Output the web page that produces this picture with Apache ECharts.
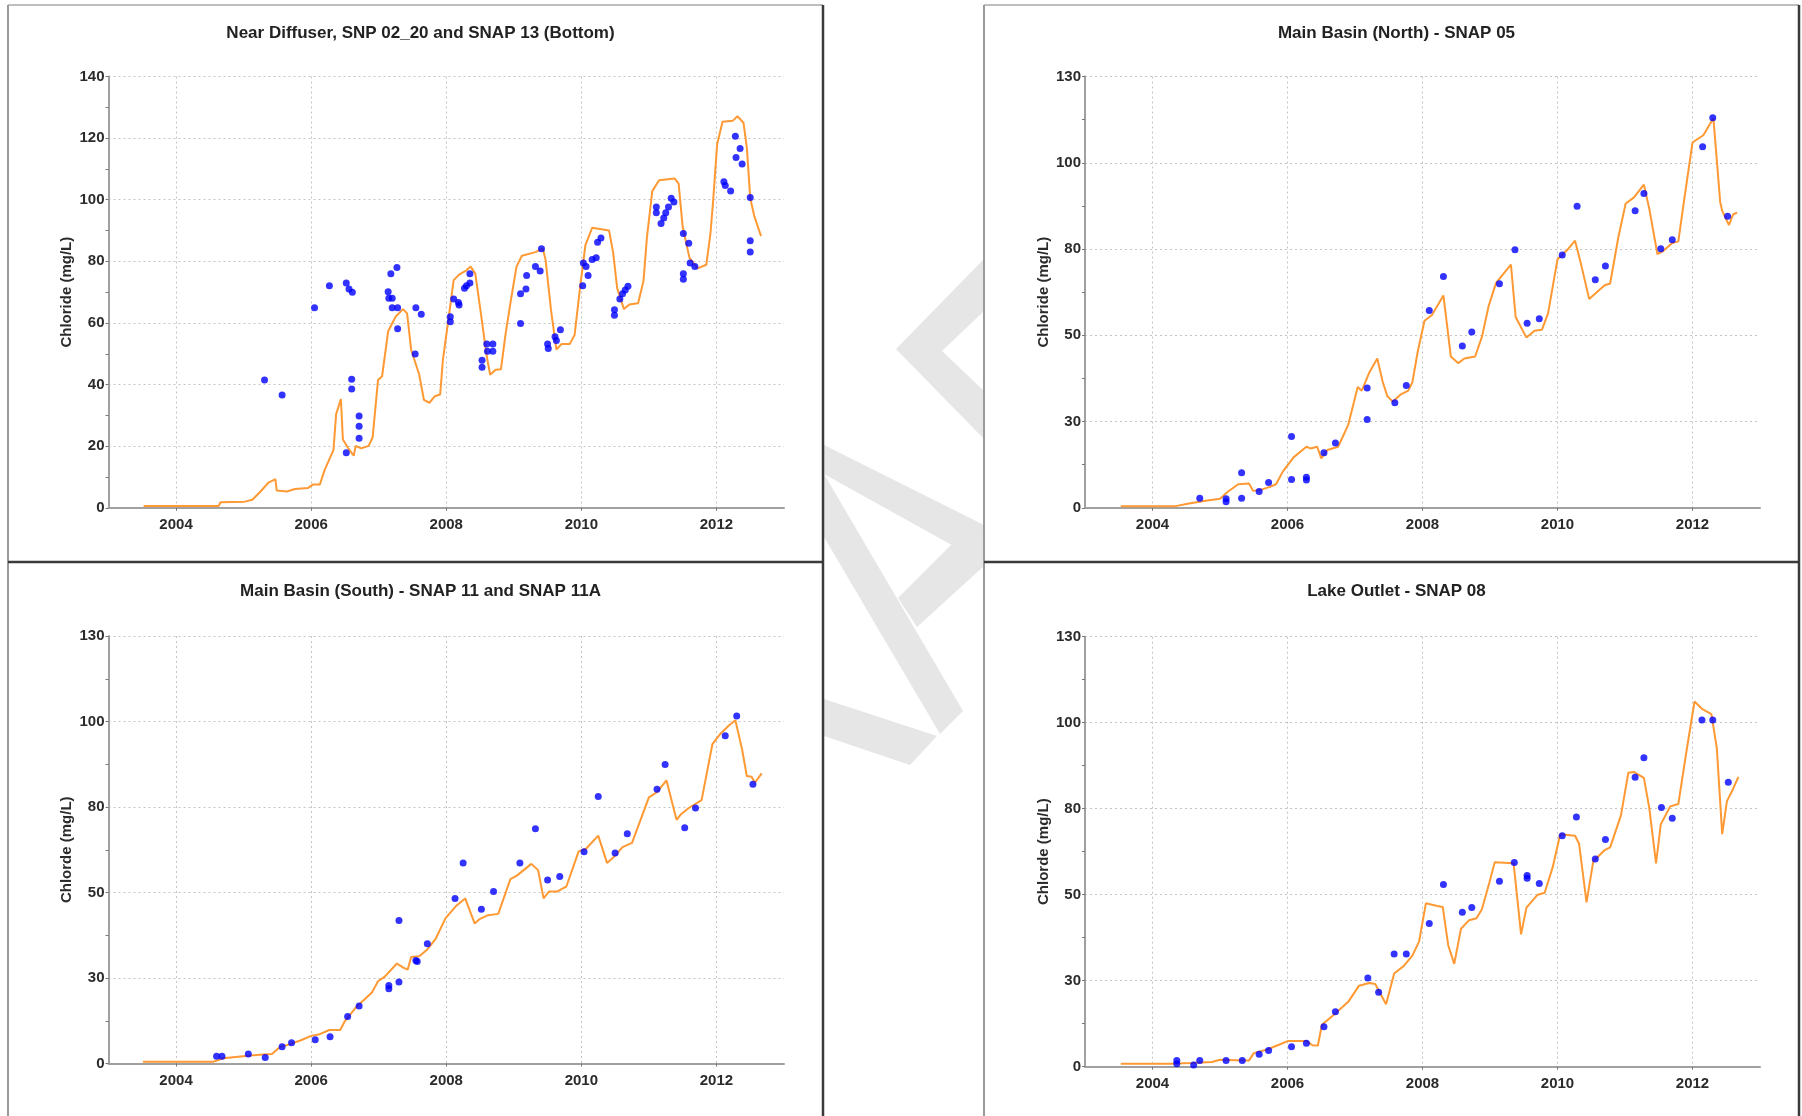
<!DOCTYPE html>
<html>
<head>
<meta charset="utf-8">
<title>Chloride – observed vs. simulated</title>
<script src="https://cdn.jsdelivr.net/npm/echarts@6/dist/echarts.min.js"></script>
<style>
  html, body { margin: 0; padding: 0; background: #fff; }
  #chart { width: 1802px; height: 1116px; }
</style>
</head>
<body>
<div id="chart"></div>
<script>
// ---- axis ticks ----------------------------------------------------------
const yearTicks = [2004, 2006, 2008, 2010, 2012];
const diffuserTickLabels = ['0', '20', '40', '60', '80', '100', '120', '140'];
const basinTickLabels = ['0', '30', '50', '80', '100', '130'];   // ticks every 26 mg/L, rounded

// ---- panel titles / axis names -------------------------------------------
const panelTitles = [
  'Near Diffuser, SNP 02_20 and SNAP 13 (Bottom)',
  'Main Basin (North) - SNAP 05',
  'Main Basin (South) - SNAP 11 and SNAP 11A',
  'Lake Outlet - SNAP 08'
];
const yNames = ['Chloride (mg/L)', 'Chloride (mg/L)', 'Chlorde (mg/L)', 'Chlorde (mg/L)'];

// ---- Near Diffuser -------------------------------------------------------
const diffuserModel = [
  [2003.52,0.6],[2004.63,0.6],[2004.66,1.8],[2005.02,2.0],[2005.13,2.6],[2005.25,5.3],[2005.37,8.2],
  [2005.47,9.3],[2005.49,5.6],[2005.64,5.3],[2005.76,6.1],[2005.95,6.4],[2006.03,7.6],[2006.13,7.6],
  [2006.2,12.3],[2006.33,18.7],[2006.37,30.4],[2006.44,35.3],[2006.47,22.2],[2006.55,19.3],[2006.63,16.9],
  [2006.66,20.1],[2006.74,19.3],[2006.85,20.1],[2006.91,22.8],[2006.99,41.5],[2007.05,42.7],[2007.14,57.3],
  [2007.25,62.0],[2007.36,64.5],[2007.42,63.1],[2007.48,51.4],[2007.6,43.2],[2007.67,35.0],[2007.75,34.1],
  [2007.83,36.2],[2007.91,36.8],[2007.95,47.9],[2008.03,60.8],[2008.11,73.9],[2008.19,75.7],[2008.3,77.1],
  [2008.36,78.3],[2008.43,76.0],[2008.52,62.0],[2008.6,49.1],[2008.65,43.2],[2008.73,44.8],[2008.81,45.0],
  [2008.88,56.7],[2008.96,67.8],[2009.04,78.3],[2009.12,81.8],[2009.32,83.0],[2009.43,84.1],[2009.47,80.6],
  [2009.55,64.3],[2009.63,51.4],[2009.71,53.2],[2009.83,53.2],[2009.9,56.1],[2009.98,71.3],[2010.06,85.3],
  [2010.16,90.9],[2010.41,90.0],[2010.47,83.0],[2010.53,71.3],[2010.63,64.5],[2010.71,66.0],[2010.84,66.4],
  [2010.92,73.6],[2010.97,87.6],[2011.05,102.8],[2011.15,106.3],[2011.38,106.9],[2011.44,105.2],[2011.5,91.2],
  [2011.6,81.2],[2011.72,77.7],[2011.85,78.9],[2011.91,88.8],[2011.95,99.3],[2012.01,118.0],[2012.09,125.3],
  [2012.24,125.6],[2012.31,127.1],[2012.4,125.0],[2012.45,116.9],[2012.5,100.5],[2012.56,94.7],[2012.66,88.2]
];
const diffuserObserved = [
  [2005.31,41.5],[2005.57,36.6],[2006.05,64.9],[2006.27,72.1],[2006.52,73.0],[2006.56,71.0],[2006.61,70.0],
  [2006.52,17.9],[2006.6,41.7],[2006.6,38.6],[2006.71,29.8],[2006.71,26.5],[2006.71,22.6],
  [2007.14,70.1],[2007.15,68.0],[2007.2,68.0],[2007.18,76.0],[2007.27,78.0],[2007.2,64.9],[2007.28,64.9],
  [2007.28,58.1],[2007.55,64.9],[2007.63,62.8],[2007.54,49.9],
  [2008.06,62.0],[2008.06,60.4],[2008.11,67.8],[2008.18,66.6],[2008.19,65.8],[2008.27,71.3],[2008.3,72.1],
  [2008.35,73.0],[2008.35,76.0],[2008.53,47.9],[2008.53,45.6],[2008.6,53.2],[2008.61,50.8],[2008.69,53.2],
  [2008.69,50.8],
  [2009.1,69.5],[2009.1,59.8],[2009.18,71.0],[2009.19,75.4],[2009.32,78.3],[2009.39,76.9],[2009.41,84.1],
  [2009.5,53.2],[2009.51,51.7],[2009.61,55.5],[2009.63,54.3],[2009.69,57.8],
  [2010.02,72.1],[2010.03,79.5],[2010.07,78.3],[2010.1,75.4],[2010.16,80.6],[2010.22,81.2],[2010.24,86.2],
  [2010.29,87.6],[2010.49,64.3],[2010.49,62.5],[2010.57,67.8],[2010.61,69.5],[2010.65,70.7],[2010.69,71.9],
  [2011.11,97.6],[2011.11,95.8],[2011.18,92.3],[2011.22,94.1],[2011.25,95.8],[2011.29,97.6],[2011.33,100.5],
  [2011.37,99.3],[2011.51,89.0],[2011.51,76.0],[2011.51,74.2],[2011.59,85.9],[2011.61,79.5],[2011.68,78.3],
  [2012.11,105.8],[2012.13,104.6],[2012.21,102.8],[2012.28,120.6],[2012.29,113.7],[2012.35,116.6],
  [2012.38,111.6],[2012.5,100.7],[2012.5,86.7],[2012.5,83.0]
];

// ---- Main Basin (North) --------------------------------------------------
const northModel = [
  [2003.53,0.5],[2004.34,0.5],[2004.54,1.3],[2004.81,2.2],[2005.0,2.7],[2005.12,4.9],[2005.27,7.1],
  [2005.43,7.3],[2005.49,5.1],[2005.6,5.4],[2005.74,6.3],[2005.83,7.1],[2005.93,10.9],[2006.09,15.2],
  [2006.28,18.4],[2006.34,17.9],[2006.44,18.4],[2006.5,14.9],[2006.59,17.4],[2006.75,18.4],[2006.9,25.0],
  [2007.04,36.4],[2007.1,35.3],[2007.21,40.7],[2007.33,45.0],[2007.41,38.0],[2007.48,33.6],[2007.56,32.0],
  [2007.68,34.2],[2007.79,35.3],[2007.85,37.8],[2007.93,47.2],[2008.03,56.4],[2008.14,58.1],[2008.31,64.0],
  [2008.42,45.6],[2008.53,43.6],[2008.62,45.0],[2008.78,45.6],[2008.88,51.5],[2008.98,60.8],[2009.09,67.8],
  [2009.31,73.3],[2009.38,57.5],[2009.54,51.3],[2009.66,53.4],[2009.77,53.7],[2009.86,58.6],[2010.0,74.9],
  [2010.14,77.6],[2010.26,80.5],[2010.35,73.3],[2010.47,62.9],[2010.59,65.1],[2010.7,67.1],[2010.78,67.6],
  [2010.9,81.4],[2011.01,91.7],[2011.13,93.5],[2011.28,97.4],[2011.36,90.1],[2011.48,76.5],[2011.56,77.3],
  [2011.7,79.8],[2011.79,80.3],[2011.88,93.3],[2012.0,110.1],[2012.16,112.3],[2012.31,117.4],[2012.41,92.2],
  [2012.44,89.5],[2012.54,85.2],[2012.6,88.4],[2012.66,89.0]
];
const northObserved = [
  [2004.7,2.9],[2005.09,2.7],[2005.09,1.8],[2005.32,10.6],[2005.32,2.9],[2005.58,4.9],[2005.72,7.6],
  [2006.06,8.5],[2006.06,21.5],[2006.28,9.2],[2006.28,8.4],[2006.54,16.6],[2006.71,19.5],[2007.18,36.1],
  [2007.18,26.6],[2007.59,31.7],[2007.76,36.9],[2008.1,59.5],[2008.31,69.7],[2008.59,48.8],[2008.73,53.0],
  [2009.14,67.5],[2009.37,77.8],[2009.55,55.6],[2009.73,57.0],[2010.07,76.2],[2010.29,90.9],[2010.56,68.7],
  [2010.71,72.9],[2011.15,89.5],[2011.28,94.7],[2011.53,78.1],[2011.7,80.8],[2012.15,108.8],[2012.3,117.6],
  [2012.52,87.9]
];

// ---- Main Basin (South) --------------------------------------------------
const southModel = [
  [2003.51,0.5],[2004.55,0.5],[2004.7,1.6],[2005.1,2.4],[2005.29,2.7],[2005.42,2.9],[2005.53,4.9],
  [2005.64,5.6],[2005.84,7.0],[2006.0,8.4],[2006.11,8.8],[2006.27,10.2],[2006.43,10.2],[2006.5,12.9],
  [2006.66,17.0],[2006.9,21.6],[2006.99,25.0],[2007.09,26.4],[2007.27,30.4],[2007.37,29.1],[2007.43,28.6],
  [2007.48,32.4],[2007.6,32.6],[2007.72,34.7],[2007.84,37.8],[2007.99,44.2],[2008.15,48.0],[2008.28,50.2],
  [2008.42,42.6],[2008.5,44.0],[2008.62,45.1],[2008.77,45.5],[2008.95,56.1],[2009.05,57.2],[2009.26,60.7],
  [2009.36,58.8],[2009.44,50.2],[2009.52,52.3],[2009.64,52.3],[2009.78,53.9],[2009.96,64.5],[2010.07,65.3],
  [2010.25,69.3],[2010.38,61.0],[2010.48,62.8],[2010.61,65.8],[2010.75,67.1],[2011.0,80.9],[2011.12,82.5],
  [2011.26,86.1],[2011.35,78.8],[2011.41,74.1],[2011.47,75.7],[2011.59,77.7],[2011.78,80.1],[2011.94,97.1],
  [2012.0,98.7],[2012.06,100.3],[2012.18,102.7],[2012.28,104.4],[2012.38,95.5],[2012.45,87.4],[2012.52,87.2],
  [2012.57,85.4],[2012.67,88.2]
];
const southObserved = [
  [2004.6,2.2],[2004.68,2.2],[2005.07,2.9],[2005.32,1.8],[2005.57,5.1],[2005.71,6.3],[2006.06,7.2],
  [2006.28,8.1],[2006.54,14.3],[2006.71,17.5],[2007.15,23.7],[2007.15,22.7],[2007.3,24.8],[2007.3,43.5],
  [2007.55,31.3],[2007.57,31.0],[2007.72,36.4],[2008.13,50.2],[2008.25,61.0],[2008.52,46.9],[2008.7,52.3],
  [2009.09,61.0],[2009.32,71.4],[2009.5,55.8],[2009.68,56.9],[2010.04,64.4],[2010.25,81.2],[2010.5,64.0],
  [2010.68,69.9],[2011.12,83.4],[2011.24,90.9],[2011.53,71.7],[2011.69,77.7],[2012.13,99.7],[2012.3,105.7],
  [2012.54,84.9]
];

// ---- Lake Outlet ---------------------------------------------------------
const outletModel = [
  [2003.53,0.9],[2004.26,0.9],[2004.57,1.1],[2004.88,1.4],[2005.0,2.1],[2005.35,1.9],[2005.43,1.9],
  [2005.5,4.1],[2005.7,5.2],[2005.89,6.8],[2006.01,7.8],[2006.28,7.8],[2006.37,6.5],[2006.45,6.4],
  [2006.51,12.7],[2006.67,15.4],[2006.9,19.6],[2007.06,24.5],[2007.21,25.3],[2007.3,25.0],[2007.46,18.9],
  [2007.58,28.2],[2007.72,30.4],[2007.85,33.6],[2007.95,37.9],[2008.05,49.4],[2008.22,48.6],[2008.3,48.3],
  [2008.38,36.8],[2008.47,31.1],[2008.57,41.7],[2008.69,44.3],[2008.8,44.9],[2008.88,47.6],[2008.99,55.6],
  [2009.07,61.8],[2009.35,61.5],[2009.46,40.0],[2009.54,48.1],[2009.7,51.9],[2009.81,52.6],[2009.93,60.4],
  [2010.04,70.3],[2010.26,69.8],[2010.32,67.4],[2010.43,49.7],[2010.53,62.1],[2010.7,65.5],[2010.78,66.3],
  [2010.94,76.0],[2011.05,88.9],[2011.13,89.1],[2011.28,87.3],[2011.36,78.2],[2011.46,61.5],[2011.53,73.3],
  [2011.67,78.7],[2011.79,79.4],[2011.91,95.3],[2012.03,110.4],[2012.14,108.2],[2012.28,106.6],[2012.36,96.4],
  [2012.44,70.3],[2012.51,80.3],[2012.59,83.5],[2012.68,87.6]
];
const outletObserved = [
  [2004.36,1.9],[2004.36,0.9],[2004.61,0.5],[2004.7,1.9],[2005.09,1.9],[2005.33,1.9],[2005.58,3.8],
  [2005.72,4.9],[2006.06,6.0],[2006.28,7.1],[2006.54,12.1],[2006.71,16.6],[2007.19,26.8],[2007.35,22.5],
  [2007.58,34.1],[2007.76,34.1],[2008.1,43.3],[2008.31,55.1],[2008.59,46.7],[2008.73,48.1],[2009.14,56.1],
  [2009.36,61.7],[2009.55,57.8],[2009.55,57.0],[2009.73,55.4],[2010.07,69.8],[2010.28,75.5],[2010.56,62.8],
  [2010.71,68.7],[2011.15,87.5],[2011.28,93.4],[2011.54,78.4],[2011.7,75.1],[2012.14,104.8],[2012.3,104.8],
  [2012.53,86.0]
];

// ---- layout / styling ----------------------------------------------------
const FONT = 'Liberation Sans, Arial, sans-serif';
const TEXT = '#2b2b2b';
const MODEL_COLOR = '#ff9933';
const OBS_COLOR = '#0000ff';

const grids = [
  { left: 108.5, top: 76.5, width: 675.5, height: 431.3 },
  { left: 1085,  top: 76.5, width: 675,   height: 431.3 },
  { left: 108.5, top: 636,  width: 675.5, height: 427.5 },
  { left: 1085,  top: 636.7, width: 675,  height: 430 }
];
const titleCenters = [[415.5, 19.5], [1391.5, 19.5], [415.5, 577.5], [1391.5, 577.5]];

const panels = [
  { x1: 8,   y1: 5,   x2: 823,  y2: 562 },
  { x1: 984, y1: 5,   x2: 1799, y2: 562 },
  { x1: 8,   y1: 562, x2: 823,  y2: 1130 },
  { x1: 984, y1: 562, x2: 1799, y2: 1130 }
];

const modelSeries = [diffuserModel, northModel, southModel, outletModel];
const obsSeries = [diffuserObserved, northObserved, southObserved, outletObserved];

function xAxisFor(i) {
  return {
    type: 'value', gridIndex: i, min: 2003, max: 2013,
    axisLine: { show: true, onZero: false, lineStyle: { color: '#a0a0a0', width: 2 } },
    axisTick: { show: true, customValues: yearTicks, length: 3, lineStyle: { color: '#777' } },
    axisLabel: {
      customValues: yearTicks, margin: 10,
      color: TEXT, fontFamily: FONT, fontWeight: 'bold', fontSize: 15,
      formatter: v => String(v)
    },
    splitLine: { show: true, lineStyle: { color: '#c4c4c4', width: 1, type: [2, 3] } }
  };
}

function yAxisFor(i) {
  const isDiffuser = i === 0;
  const labels = isDiffuser ? diffuserTickLabels : basinTickLabels;
  const step = isDiffuser ? 20 : 26;
  return {
    type: 'value', gridIndex: i, min: 0,
    max: isDiffuser ? 140 : 130, interval: step,
    name: yNames[i], nameLocation: 'middle', nameGap: 34, nameRotate: 90,
    nameTextStyle: { color: TEXT, fontFamily: FONT, fontWeight: 'bold', fontSize: 15 },
    axisLine: { show: true, lineStyle: { color: '#a0a0a0', width: 2 } },
    axisTick: { show: true, length: 3, lineStyle: { color: '#777' } },
    minorTick: { show: true, splitNumber: 2, length: 3, lineStyle: { color: '#777' } },
    axisLabel: {
      margin: 4, color: TEXT, fontFamily: FONT, fontWeight: 'bold', fontSize: 15,
      formatter: v => labels[Math.round(v / step)]
    },
    splitLine: { show: true, lineStyle: { color: '#c4c4c4', width: 1, type: [2, 3] } }
  };
}

// light grey watermark bands visible in the gutter between the panels
const watermarkBands = [
  [[984,259],[896,349],[984,439],[984,391],[942,351],[984,311]],
  [[824,445],[984,525],[984,563],[824,474]],
  [[984,533],[984,566],[917,627],[898,598],[952,544]],
  [[824,474],[824,537],[940,734],[963,711]],
  [[824,699],[937,736],[910,765],[824,736]]
];

const graphic = [];
watermarkBands.forEach(pts => graphic.push({
  type: 'polygon', z: 0, silent: true,
  shape: { points: pts },
  style: { fill: '#e6e6e6', stroke: null }
}));
panels.forEach(p => {
  // light top/left edges, dark bottom/right edges
  graphic.push({ type: 'line', z: 10, silent: true,
    shape: { x1: p.x1, y1: p.y1, x2: p.x2, y2: p.y1 }, style: { stroke: '#a8a8a8', lineWidth: 1.5 } });
  graphic.push({ type: 'line', z: 10, silent: true,
    shape: { x1: p.x1, y1: p.y1, x2: p.x1, y2: p.y2 }, style: { stroke: '#9a9a9a', lineWidth: 2 } });
  graphic.push({ type: 'line', z: 11, silent: true,
    shape: { x1: p.x2, y1: p.y1, x2: p.x2, y2: p.y2 }, style: { stroke: '#3a3a3a', lineWidth: 2.5 } });
  graphic.push({ type: 'line', z: 11, silent: true,
    shape: { x1: p.x1, y1: p.y2, x2: p.x2, y2: p.y2 }, style: { stroke: '#3a3a3a', lineWidth: 2.5 } });
});

const series = [];
for (let i = 0; i < 4; i++) {
  series.push({
    type: 'line', xAxisIndex: i, yAxisIndex: i, data: modelSeries[i],
    showSymbol: false, symbol: 'none', silent: true, z: 3,
    lineStyle: { color: MODEL_COLOR, width: 2 }
  });
  series.push({
    type: 'scatter', xAxisIndex: i, yAxisIndex: i, data: obsSeries[i],
    symbol: 'circle', symbolSize: 7, silent: true, z: 4,
    itemStyle: { color: OBS_COLOR }
  });
}

const option = {
  backgroundColor: '#ffffff',
  animation: false,
  title: panelTitles.map((t, i) => ({
    text: t, left: titleCenters[i][0], top: titleCenters[i][1], textAlign: 'center',
    textStyle: { color: '#222', fontFamily: FONT, fontWeight: 'bold', fontSize: 17 }
  })),
  grid: grids,
  xAxis: [0, 1, 2, 3].map(xAxisFor),
  yAxis: [0, 1, 2, 3].map(yAxisFor),
  graphic: graphic,
  series: series
};

const chart = echarts.init(document.getElementById('chart'), null, { renderer: 'canvas' });
chart.setOption(option);
</script>
</body>
</html>
